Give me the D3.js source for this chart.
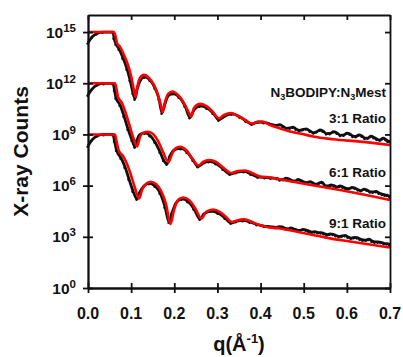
<!DOCTYPE html>
<html><head><meta charset="utf-8">
<script src="https://cdn.jsdelivr.net/npm/d3@7"></script>
<style>body{margin:0;background:#fff}svg{display:block}text{font-family:Arial,"Liberation Sans",sans-serif;font-weight:bold;fill:#111}</style>
</head><body><svg id="c" width="403" height="357"></svg>
<script>
// ---- data (log10 of X-ray counts) ----
const xTicks = [0, 0.1, 0.2, 0.3, 0.4, 0.5, 0.6, 0.7];
const yTickExps = [0, 3, 6, 9, 12, 15];
const seriesLabels = ["3:1 Ratio", "6:1 Ratio", "9:1 Ratio"];

const fit31Q = [0, 0.028, 0.060, 0.0637, 0.0672, 0.0742, 0.0834, 0.0927, 0.0997, 0.1055, 0.1101, 0.1147, 0.1205, 0.1298, 0.1414, 0.153, 0.1623, 0.1692, 0.1727, 0.1785, 0.1854, 0.1959, 0.2086, 0.2225, 0.2341, 0.2388, 0.2457, 0.2596, 0.2735, 0.2874, 0.3036, 0.3153, 0.3315, 0.3477, 0.3639, 0.379, 0.3941, 0.4034, 0.4219, 0.4451, 0.4683, 0.4914, 0.5216, 0.5679, 0.6305, 0.7];
const fit31Log = [15.0, 15.0, 15.0, 14.77, 14.36, 14.13, 13.66, 13.07, 12.43, 11.72, 11.2, 11.84, 12.31, 12.49, 12.31, 11.9, 11.31, 10.67, 10.32, 10.9, 11.37, 11.52, 11.31, 10.84, 10.26, 10.05, 10.55, 10.79, 10.67, 10.38, 9.94, 10.14, 10.26, 10.08, 9.85, 9.64, 9.73, 9.76, 9.55, 9.35, 9.17, 9.06, 8.88, 8.72, 8.58, 8.38];

const fit61Q = [0, 0.0626, 0.066, 0.0695, 0.0788, 0.0881, 0.0974, 0.1043, 0.1136, 0.1205, 0.1275, 0.1391, 0.1507, 0.1623, 0.1739, 0.1866, 0.1947, 0.204, 0.2144, 0.2272, 0.2411, 0.2561, 0.2666, 0.2816, 0.2967, 0.3129, 0.3315, 0.3477, 0.3639, 0.3801, 0.3987, 0.4219, 0.459, 0.4914, 0.5378, 0.5842, 0.6444, 0.7];
const fit61Log = [12.0, 12.0, 11.67, 11.2, 10.84, 10.2, 9.44, 8.85, 8.3, 8.85, 9.09, 9.16, 9.03, 8.62, 7.97, 7.39, 7.85, 8.21, 8.28, 8.09, 7.62, 7.18, 7.39, 7.5, 7.39, 7.06, 6.74, 6.86, 6.89, 6.74, 6.54, 6.48, 6.30, 6.15, 5.95, 5.74, 5.45, 5.16];

const fit91Q = [0, 0.0626, 0.066, 0.0707, 0.0811, 0.0904, 0.0997, 0.1089, 0.1182, 0.1252, 0.1344, 0.1449, 0.1576, 0.1692, 0.1808, 0.1912, 0.1993, 0.2086, 0.2202, 0.2341, 0.248, 0.2631, 0.2735, 0.2897, 0.306, 0.3199, 0.3338, 0.3454, 0.3604, 0.3755, 0.3941, 0.4149, 0.4451, 0.4845, 0.5216, 0.561, 0.6073, 0.6537, 0.7];
const fit91Log = [9.0, 9.0, 8.62, 8.09, 7.74, 7.27, 6.62, 5.86, 5.25, 5.74, 6.1, 6.23, 6.1, 5.69, 4.92, 3.75, 4.57, 5.16, 5.3, 5.16, 4.69, 4.07, 4.45, 4.6, 4.45, 4.16, 3.87, 3.96, 4.02, 3.93, 3.72, 3.58, 3.49, 3.3, 3.11, 2.91, 2.73, 2.55, 2.37];

const data31Q = [0, 0.0093, 0.0209, 0.0348, 0.058, 0.0603, 0.0649, 0.0719, 0.0811, 0.0904, 0.0974, 0.1043, 0.1089, 0.1136, 0.1205, 0.131, 0.1437, 0.1553, 0.1646, 0.1715, 0.1785, 0.1854, 0.197, 0.2109, 0.2248, 0.2364, 0.2457, 0.2596, 0.2758, 0.2897, 0.3036, 0.3176, 0.3338, 0.3523, 0.3662, 0.3801, 0.3941, 0.408, 0.4219,
  0.4358, 0.444, 0.452, 0.460, 0.4683, 0.475, 0.4822, 0.490, 0.4984, 0.506, 0.5146, 0.523, 0.5308, 0.538, 0.5447, 0.553, 0.561, 0.569, 0.5772, 0.585, 0.5934, 0.600, 0.6073, 0.614, 0.6212, 0.628, 0.6351, 0.642, 0.6491, 0.656, 0.663, 0.670, 0.6769, 0.684, 0.6908, 0.695, 0.7];
const data31Log = [14.37, 14.71, 14.92, 15.0, 15.0, 14.65, 14.3, 14.01, 13.48, 12.84, 12.19, 11.43, 11.08, 11.61, 12.13, 12.37, 12.19, 11.72, 11.08, 10.26, 10.79, 11.25, 11.4, 11.2, 10.67, 9.99, 10.43, 10.67, 10.55, 10.26, 9.85, 10.08, 10.2, 10.02, 9.79, 9.61, 9.73, 9.7, 9.61,
  9.53, 9.58, 9.47, 9.36, 9.38, 9.43, 9.32, 9.24, 9.29, 9.33, 9.2, 9.1, 9.17, 9.26, 9.2, 9.05, 9.06, 9.16, 9.08, 8.95, 8.97, 9.08, 9.03, 8.9, 8.88, 8.98, 8.91, 8.78, 8.79, 8.9, 8.82, 8.72, 8.67, 8.78, 8.7, 8.62, 8.59];

const data61Q = [0, 0.0093, 0.0209, 0.0371, 0.058, 0.0614, 0.0649, 0.0742, 0.0834, 0.0927, 0.102, 0.1089, 0.1136, 0.1205, 0.1321, 0.1437, 0.1553, 0.167, 0.175, 0.1831, 0.19, 0.2016, 0.2156, 0.2295, 0.2434, 0.255, 0.2643, 0.2805, 0.2967, 0.3129, 0.3292, 0.3431, 0.3616, 0.3778, 0.3941, 0.4103, 0.4242,
  0.4381, 0.445, 0.452, 0.459, 0.4659, 0.473, 0.4798, 0.487, 0.4937, 0.501, 0.5077, 0.515, 0.5216, 0.529, 0.5355, 0.542, 0.5494, 0.556, 0.5633, 0.570, 0.5772, 0.584, 0.5911, 0.598, 0.605, 0.612, 0.6189, 0.626, 0.6328, 0.640, 0.6467, 0.654, 0.6607, 0.668, 0.6746, 0.682, 0.6885, 0.694, 0.7];
const data61Log = [11.31, 11.66, 11.9, 11.99, 11.99, 11.61, 11.14, 10.73, 10.08, 9.32, 8.68, 8.27, 8.68, 9.0, 9.09, 8.94, 8.56, 7.97, 7.5, 7.27, 7.74, 8.12, 8.18, 7.97, 7.5, 7.12, 7.27, 7.42, 7.3, 6.98, 6.68, 6.77, 6.83, 6.68, 6.51, 6.48, 6.45,
  6.42, 6.34, 6.36, 6.44, 6.39, 6.3, 6.27, 6.36, 6.3, 6.2, 6.18, 6.24, 6.15, 6.08, 6.15, 6.2, 6.01, 5.98, 6.04, 6.0, 5.92, 5.98, 5.92, 5.84, 5.83, 5.9, 5.86, 5.76, 5.71, 5.8, 5.74, 5.64, 5.63, 5.66, 5.57, 5.5, 5.45, 5.44, 5.33];

const data91Q = [0, 0.0093, 0.0209, 0.0371, 0.058, 0.0614, 0.066, 0.0765, 0.0858, 0.095, 0.1043, 0.1136, 0.1205, 0.1298, 0.1414, 0.1553, 0.167, 0.1785, 0.1878, 0.1947, 0.204, 0.2179, 0.2318, 0.2457, 0.2596, 0.2689, 0.2851, 0.3013, 0.3176, 0.3315, 0.3431, 0.3593, 0.3755, 0.3917, 0.408, 0.4219,
  0.4358, 0.443, 0.4497, 0.457, 0.4636, 0.470, 0.4775, 0.484, 0.4914, 0.498, 0.5053, 0.512, 0.5192, 0.526, 0.5332, 0.540, 0.5471, 0.554, 0.561, 0.568, 0.5749, 0.582, 0.5888, 0.596, 0.6027, 0.610, 0.6166, 0.624, 0.6305, 0.637, 0.6444, 0.651, 0.6584, 0.665, 0.6723, 0.679, 0.6862, 0.693, 0.7];
const data91Log = [8.32, 8.68, 8.91, 9.0, 9.0, 8.62, 8.09, 7.62, 7.09, 6.39, 5.69, 5.22, 5.63, 5.98, 6.13, 5.98, 5.57, 4.75, 3.87, 4.4, 4.98, 5.22, 5.07, 4.63, 4.04, 4.34, 4.51, 4.4, 4.1, 3.81, 3.9, 3.96, 3.87, 3.72, 3.63, 3.6,
  3.55, 3.6, 3.58, 3.5, 3.46, 3.52, 3.46, 3.4, 3.37, 3.44, 3.4, 3.33, 3.28, 3.3, 3.25, 3.24, 3.19, 3.12, 3.17, 3.15, 3.08, 3.02, 3.05, 3.08, 2.99, 2.92, 2.96, 2.95, 2.87, 2.82, 2.81, 2.86, 2.75, 2.7, 2.7, 2.68, 2.61, 2.6, 2.55];

// ---- layout ----
const L = 88, R = 390, T = 15, B = 288;
const svg = d3.select("#c");
const x = d3.scaleLinear().domain([0, 0.7]).range([L, R]);
const y = d3.scaleLog().domain([1, 1e16]).range([B, T]);

const toPts = (qs, ls) => qs.map((q, i) => [q, Math.pow(10, ls[i])]);
const line = d3.line().x(d => x(d[0])).y(d => y(d[1])).curve(d3.curveMonotoneX);

const dataSets = [toPts(data31Q, data31Log), toPts(data61Q, data61Log), toPts(data91Q, data91Log)];
const fitSets = [toPts(fit31Q, fit31Log), toPts(fit61Q, fit61Log), toPts(fit91Q, fit91Log)];

const g = svg.append("g");
dataSets.forEach(d => {
  g.append("path").attr("d", line(d)).attr("fill", "none").attr("stroke", "#111").attr("stroke-width", 2.8);
  g.selectAll(null).data(d).enter().append("circle")
    .attr("cx", p => x(p[0]) - 0.5).attr("cy", p => y(p[1]) + 0.8).attr("r", 1.2).attr("fill", "#111");
});
fitSets.forEach(d => {
  g.append("path").attr("d", line(d)).attr("fill", "none").attr("stroke", "#ff0000").attr("stroke-width", 2.6);
});

// ---- axes ----
const yVals = yTickExps.map(e => Math.pow(10, e));
const styleAxis = sel => { sel.selectAll("path,line").attr("stroke", "#111").attr("stroke-width", 1.8); sel.selectAll("text").remove(); };
svg.append("g").attr("transform", `translate(0,${B})`).call(d3.axisBottom(x).tickValues(xTicks).tickSize(5).tickSizeOuter(0)).call(styleAxis);
svg.append("g").attr("transform", `translate(0,${B})`).call(d3.axisTop(x).tickValues(xTicks).tickSize(5).tickSizeOuter(0)).call(styleAxis);
svg.append("g").attr("transform", `translate(0,${T})`).call(d3.axisBottom(x).tickValues(xTicks).tickSize(5).tickSizeOuter(0)).call(styleAxis);
svg.append("g").attr("transform", `translate(${L},0)`).call(d3.axisLeft(y).tickValues(yVals).tickSize(5).tickSizeOuter(0)).call(styleAxis);
svg.append("g").attr("transform", `translate(${L},0)`).call(d3.axisRight(y).tickValues(yVals).tickSize(5).tickSizeOuter(0)).call(styleAxis);
svg.append("g").attr("transform", `translate(${R},0)`).call(d3.axisLeft(y).tickValues(yVals).tickSize(5).tickSizeOuter(0)).call(styleAxis);

// tick labels
svg.selectAll(".xl").data(xTicks).enter().append("text")
  .attr("x", d => x(d)).attr("y", 318.5).attr("text-anchor", "middle").attr("font-size", 16)
  .text(d => d.toFixed(1));
yTickExps.forEach(e => {
  const t = svg.append("text").attr("x", 76).attr("y", y(Math.pow(10, e)) + 5.5).attr("text-anchor", "end").attr("font-size", 15.5);
  t.append("tspan").text("10");
  t.append("tspan").attr("dy", -6).attr("font-size", 11.5).text(String(e));
});

// axis titles
svg.append("text").attr("transform", `translate(28,${(T + B) / 2}) rotate(-90)`).attr("text-anchor", "middle").attr("font-size", 21).text("X-ray Counts");
const xt = svg.append("text").attr("x", (L + R) / 2).attr("y", 351).attr("text-anchor", "middle").attr("font-size", 20);
xt.append("tspan").text("q(Å");
xt.append("tspan").attr("dy", -8).attr("font-size", 13).text("-1");
xt.append("tspan").attr("dy", 8).text(")");

// annotations
const ann = svg.append("text").attr("x", 386).attr("y", 96.5).attr("text-anchor", "end").attr("font-size", 13.5);
ann.append("tspan").text("N");
ann.append("tspan").attr("dy", 3).attr("font-size", 9).text("3");
ann.append("tspan").attr("dy", -3).text("BODIPY:N");
ann.append("tspan").attr("dy", 3).attr("font-size", 9).text("3");
ann.append("tspan").attr("dy", -3).text("Mest");
const labY = [123.3, 176.5, 228.3];
seriesLabels.forEach((s, i) => {
  svg.append("text").attr("x", 386).attr("y", labY[i]).attr("text-anchor", "end").attr("font-size", 13.5).text(s);
});
</script></body></html>
